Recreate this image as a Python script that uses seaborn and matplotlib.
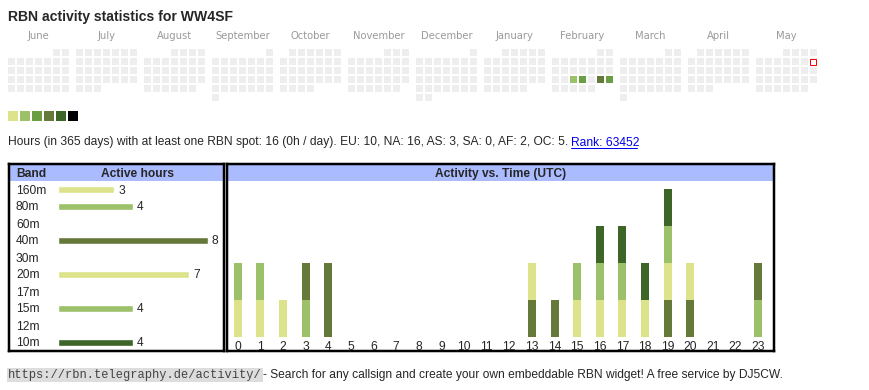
"""
RBN activity widget for WW4SF - calendar, band hours and hour-of-day activity
"""

import numpy as np
import pandas as pd
import matplotlib
matplotlib.use('Agg')
import matplotlib.pyplot as plt
from matplotlib.colors import ListedColormap
from matplotlib.patches import Rectangle
import seaborn as sns

sns.set_style('white')
plt.rcParams['font.family'] = ['Liberation Sans', 'DejaVu Sans']

W, H = 870, 390

# ---------------- data ----------------
month_names = ['June', 'July', 'August', 'September', 'October', 'November',
               'December', 'January', 'February', 'March', 'April', 'May']
month_starts = ['2024-06-01', '2024-07-01', '2024-08-01', '2024-09-01', '2024-10-01',
                '2024-11-01', '2024-12-01', '2025-01-01', '2025-02-01', '2025-03-01',
                '2025-04-01', '2025-05-01']
active_days = ['2025-02-19', '2025-02-20', '2025-02-22', '2025-02-23']
active_levels = [2, 3, 4, 3]
today = '2025-05-11'

level_colors = ['#dce38b', '#9dc06b', '#6a9e45', '#657a3a', '#3c6527', '#000000']
empty_color = '#eeeeee'

bands = ['160m', '80m', '60m', '40m', '30m', '20m', '17m', '15m', '12m', '10m']
band_hours = [3, 4, 0, 8, 0, 7, 0, 4, 0, 4]
band_colors = ['#dce38b', '#9dc06b', '#6a9e45', '#657a3a', '#3c6527',
               '#dce38b', '#6a9e45', '#9dc06b', '#657a3a', '#3c6527']

hours = list(range(24))
# bands active in each UTC hour, stacked bottom -> top
hour_bands = [
    ['160m', '80m'], ['160m', '80m'], ['160m'], ['80m', '40m'], ['40m', '40m'],
    [], [], [], [], [], [], [], [],
    ['40m', '20m'], ['40m'], ['20m', '15m'], ['20m', '15m', '10m'],
    ['20m', '15m', '10m'], ['20m', '10m'], ['40m', '20m', '15m', '10m'],
    ['40m', '20m'], [], [], ['80m', '40m'],
]

header_blue = '#aabbff'

summary = ('Hours (in 365 days) with at least one RBN spot: 16 (0h / day). '
           'EU: 10, NA: 16, AS: 3, SA: 0, AF: 2, OC: 5. ')
rank_text = 'Rank: 63452'
footer_url = 'https://rbn.telegraphy.de/activity/'
footer_text = '- Search for any callsign and create your own embeddable RBN widget! A free service by DJ5CW.'


def px_axes(fig, x, y, w, h):
    # axes placed by pixel box (top-left origin)
    return fig.add_axes([x / W, 1 - (y + h) / H, w / W, h / H])


def framed_box(ax, title, title_x=0.5, ha='center'):
    ax.set_xlim(0, 1)
    ax.set_ylim(0, 1)
    ax.axhspan(1 - 17 / 187, 1, color=header_blue, lw=0)
    ax.set_xticks([])
    ax.set_yticks([])
    for s in ax.spines.values():
        s.set_color('black')
        s.set_linewidth(2.5 * PT)
        s.set_visible(True)
    ax.text(title_x, 1 - 9.5 / 187, title, fontsize=12 * PT, fontweight='bold',
            va='center', ha=ha, transform=ax.transAxes)


fig = plt.figure(figsize=(W / 100, H / 100), dpi=100)
PT = 72 / 100  # points per pixel

# ---------------- title ----------------
fig.text(8 / W, 1 - 21.5 / H, 'RBN activity statistics for WW4SF',
         fontsize=14 * PT, fontweight='bold', va='baseline')

# ---------------- calendar ----------------
cal_cmap = ListedColormap([empty_color] + level_colors)
levels = dict(zip(pd.to_datetime(active_days), active_levels))
today_d = pd.Timestamp(today)

for i, (name, start) in enumerate(zip(month_names, month_starts)):
    start = pd.Timestamp(start)
    days = pd.date_range(start, start + pd.offsets.MonthEnd(0))
    grid = np.full((6, 7), np.nan)
    offset = start.weekday()
    today_cell = None
    for d in days:
        pos = offset + d.day - 1
        r, c = pos // 7, pos % 7
        grid[r, c] = levels.get(d, 0)
        if d == today_d:
            today_cell = (c, r)

    bx = 8 + 68 * i
    ax = px_axes(fig, bx - 1, 48, 63, 54)
    sns.heatmap(grid, ax=ax, cmap=cal_cmap, vmin=-0.5, vmax=6.5, cbar=False,
                mask=np.isnan(grid), linewidths=2 * PT, linecolor='white')
    ax.set_xticks([])
    ax.set_yticks([])
    ax.set_facecolor('none')
    if today_cell is not None:
        c, r = today_cell
        ax.add_patch(Rectangle((c + 1.5 / 9, r + 1.5 / 9), 6 / 9, 6 / 9,
                               facecolor='white', edgecolor='red', lw=1 * PT))
    fig.text((bx + 30.5) / W, 1 - 39 / H, name, fontsize=10 * PT,
             family='DejaVu Sans', color='#9a9a9a', ha='center', va='baseline')

# colour legend
ax = px_axes(fig, 7, 110, 72, 12)
sns.heatmap(np.arange(1, 7).reshape(1, 6), ax=ax, cmap=cal_cmap, vmin=-0.5, vmax=6.5,
            cbar=False, linewidths=2 * PT, linecolor='white')
ax.set_xticks([])
ax.set_yticks([])

# ---------------- summary line ----------------
fig.text(8 / W, 1 - 145.5 / H, summary, fontsize=12 * PT, va='baseline')
fig.text(571 / W, 1 - 145.5 / H, rank_text, fontsize=12 * PT, va='baseline',
         color='#0000ee')
fig.add_artist(plt.Line2D([571 / W, 637 / W], [1 - 147.5 / H] * 2,
                          color='#0000ee', lw=1 * PT))

# ---------------- band table ----------------
box = px_axes(fig, 9, 164, 215, 187)
framed_box(box, 'Band', title_x=7 / 215, ha='left')
box.text(129 / 215, 1 - 9.5 / 187, 'Active hours', fontsize=12 * PT, fontweight='bold',
         va='center', ha='center', transform=box.transAxes)

axb = px_axes(fig, 58, 180.5, 165, 170)
band_df = pd.DataFrame({'band': bands, 'hours': band_hours})
sns.barplot(data=band_df, x='hours', y='band', hue='band', palette=band_colors,
            legend=False, width=7 / 17, saturation=1, ax=axb)
axb.set_facecolor('none')
axb.set_xlim(0, 8.8)
axb.set_xlabel('')
axb.set_ylabel('')
axb.set_xticks([])
sns.despine(ax=axb, left=True, bottom=True)
axb.tick_params(axis='y', length=0, pad=42 * PT, labelsize=12 * PT)
for lab in axb.get_yticklabels():
    lab.set_horizontalalignment('left')
    lab.set_verticalalignment('center_baseline')
for y, v in enumerate(band_hours):
    if v > 0:
        axb.annotate(str(v), (v, y), xytext=(4 * PT, 0), textcoords='offset points',
                     fontsize=12 * PT, va='center_baseline', ha='left')

# ---------------- activity vs time ----------------
box2 = px_axes(fig, 227, 164, 547, 187)
framed_box(box2, 'Activity vs. Time (UTC)')

color_of = dict(zip(bands, band_colors))
axt = px_axes(fig, 226.4, 181, 543.1, 156)
for h, segs in zip(hours, hour_bands):
    for k, b in enumerate(segs):
        axt.bar(h, 1, bottom=k, width=8 / 22.63, color=color_of[b], lw=0)
axt.set_xlim(-0.5, 23.5)
axt.set_ylim(0, 156 / 37)
axt.set_facecolor('none')
axt.set_xticks(hours)
axt.set_xticklabels([str(h) for h in hours])
axt.set_yticks([])
axt.tick_params(axis='x', length=0, pad=3.5 * PT, labelsize=12 * PT)
sns.despine(ax=axt, left=True, bottom=True)

# ---------------- footer ----------------
fig.text(8 / W, 1 - 378 / H, footer_url, fontsize=12 * PT, family='Liberation Mono',
         color='#444444', va='baseline',
         bbox=dict(boxstyle='square,pad=0.1', facecolor='#dddddd', edgecolor='none'))
fig.text(263 / W, 1 - 378 / H, footer_text, fontsize=12 * PT, va='baseline')

plt.savefig('out.png', dpi=100)
